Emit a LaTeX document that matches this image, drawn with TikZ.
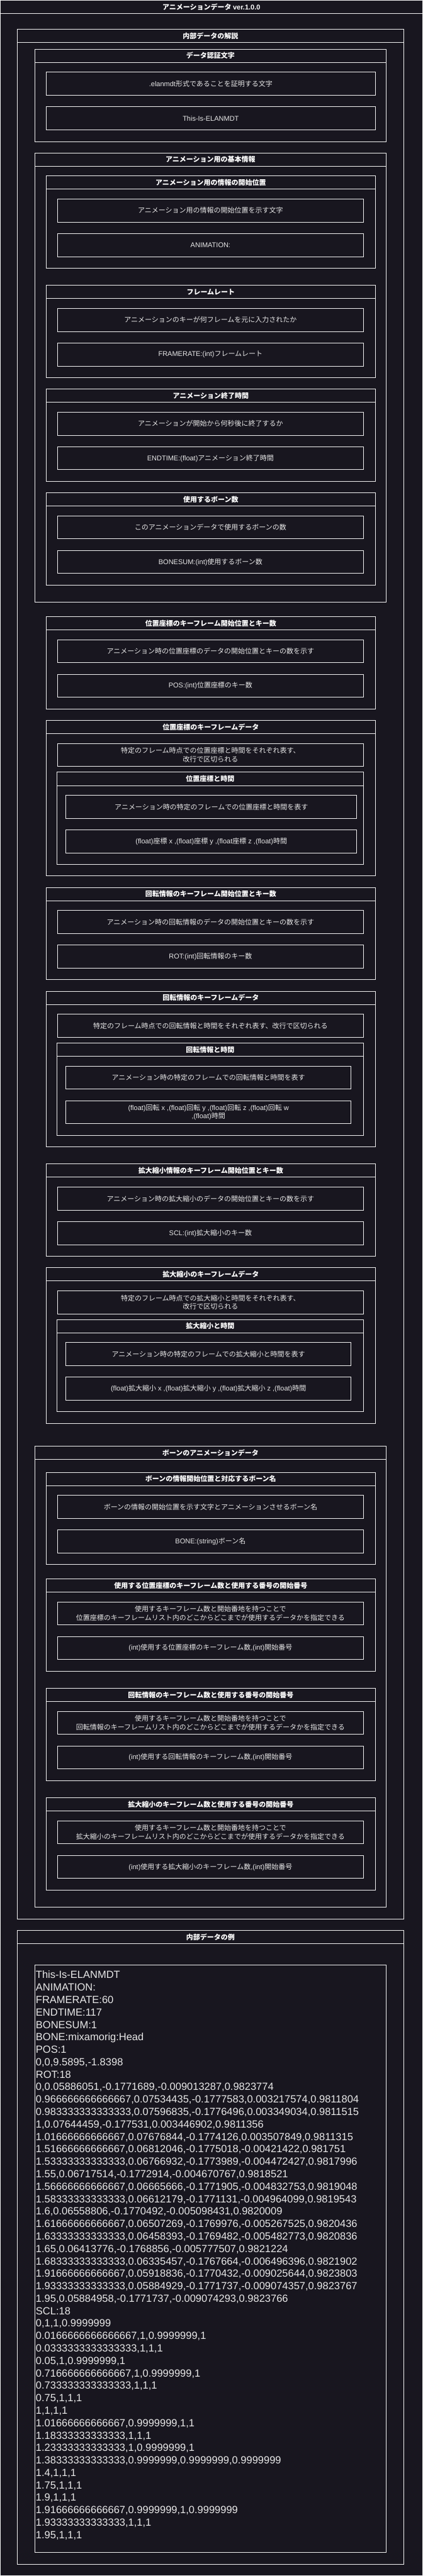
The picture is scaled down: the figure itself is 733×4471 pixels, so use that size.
\documentclass[tikz,border=0pt]{standalone}
\usepackage{fontspec}
\setmainfont{Liberation Sans}
\newfontfamily\jpfont{Noto Sans CJK JP}
\usepackage{tikz}
\usetikzlibrary{positioning}

\definecolor{bgdark}{RGB}{24, 22, 31}
\definecolor{linecol}{RGB}{242, 242, 242}
\definecolor{textcol}{RGB}{232, 232, 232}

% Latin runs inside the Japanese labels
\newcommand{\enword}[1]{{\rmfamily #1}}

\begin{document}
\begin{tikzpicture}[x=1pt, y=-1pt,
  lane/.style={draw=linecol, line width=1pt, inner sep=0pt, outer sep=0pt, anchor=north west},
  lanehead/.style={lane, minimum height=23pt, text=white, font=\fontsize{12}{15}\selectfont\jpfont\bfseries},
  field/.style={lane, minimum height=40pt, align=center, text=textcol, font=\fontsize{12}{15}\selectfont\jpfont},
  w1/.style={minimum width=670pt}, w2/.style={minimum width=610pt},
  w3/.style={minimum width=571pt}, w4/.style={minimum width=532pt},
  w5/.style={minimum width=530pt}, w6/.style={minimum width=504pt},
  w7/.style={minimum width=494pt},
  sample/.style={anchor=north west, align=left, inner sep=0pt, text=textcol, font=\fontsize{18}{21.6}\selectfont}
]
  \fill[bgdark] (0,0) rectangle (733,4471);
  \useasboundingbox (0,0) rectangle (733,4471);

  % Outer frame
  \node[lane, minimum width=732pt, minimum height=4470pt] (animF) at (0.5,0.5) {};
  \node[lanehead, minimum width=732pt] (anim) at (0.5,0.5) {アニメーションデータ \enword{ver.1.0.0}};

  % Explanation
  \node[lane, w1, minimum height=3279.6pt] (explF) at (30,50.7) {};
  \node[lanehead, w1] (expl) at (30,50.7) {内部データの解説};

  \node[lane, w2, minimum height=160.4pt] (authF) at (60,85.3) {};
  \node[lanehead, w2] (auth) at (60,85.3) {データ認証文字};
  \node[field, w3] (authText) at (80,125.3) {\enword{.elanmdt}形式であることを証明する文字};
  \node[field, w3] (authKey) at (80,185.3) {\enword{This-Is-ELANMDT}};

  \node[lane, w2, minimum height=780pt] (baseF) at (60,265.3) {};
  \node[lanehead, w2] (base) at (60,265.3) {アニメーション用の基本情報};

  \node[lane, w3, minimum height=160pt] (startF) at (80,305.3) {};
  \node[lanehead, w3] (start) at (80,305.3) {アニメーション用の情報の開始位置};
  \node[field, w5] (startText) at (100,345.3) {アニメーション用の情報の開始位置を示す文字};
  \node[field, w5] (startKey) at (100,405.3) {\enword{ANIMATION:}};

  \node[lane, w3, minimum height=160pt] (rateF) at (80,495.3) {};
  \node[lanehead, w3] (rate) at (80,495.3) {フレームレート};
  \node[field, w5] (rateText) at (100,535.3) {アニメーションのキーが何フレームを元に入力されたか};
  \node[field, w5] (rateKey) at (100,595.3) {\enword{FRAMERATE:(int)}フレームレート};

  \node[lane, w3, minimum height=160pt] (endF) at (80,675.3) {};
  \node[lanehead, w3] (end) at (80,675.3) {アニメーション終了時間};
  \node[field, w5] (endText) at (100,715.3) {アニメーションが開始から何秒後に終了するか};
  \node[field, w5] (endKey) at (100,775.3) {\enword{ENDTIME:(float)}アニメーション終了時間};

  \node[lane, w3, minimum height=160pt] (boneSumF) at (80,855.3) {};
  \node[lanehead, w3] (boneSum) at (80,855.3) {使用するボーン数};
  \node[field, w5] (boneSumText) at (100,895.3) {このアニメーションデータで使用するボーンの数};
  \node[field, w5] (boneSumKey) at (100,955.3) {\enword{BONESUM:(int)}使用するボーン数};

  % Position keys
  \node[lane, w3, minimum height=160pt] (posF) at (80,1070.3) {};
  \node[lanehead, w3] (pos) at (80,1070.3) {位置座標のキーフレーム開始位置とキー数};
  \node[field, w5] (posText) at (100,1110.3) {アニメーション時の位置座標のデータの開始位置とキーの数を示す};
  \node[field, w5] (posKey) at (100,1170.3) {\enword{POS:(int)}位置座標のキー数};

  \node[lane, w3, minimum height=270pt] (posDataF) at (80,1250.3) {};
  \node[lanehead, w3] (posData) at (80,1250.3) {位置座標のキーフレームデータ};
  \node[field, w5] (posDataText) at (100,1290.3) {特定のフレーム時点での位置座標と時間をそれぞれ表す、\\改行で区切られる};
  \node[lane, w4, minimum height=160pt] (posTimeF) at (98.5,1340.3) {};
  \node[lanehead, w4] (posTime) at (98.5,1340.3) {位置座標と時間};
  \node[field, w6] (posTimeText) at (114.5,1380.3) {アニメーション時の特定のフレームでの位置座標と時間を表す};
  \node[field, w6] (posTimeKey) at (114.5,1440.3) {\enword{(float)}座標\enword{ x ,(float)}座標\enword{ y ,(float}座標\enword{ z ,(float)}時間};

  % Rotation keys
  \node[lane, w3, minimum height=160pt] (rotF) at (80,1540.3) {};
  \node[lanehead, w3] (rot) at (80,1540.3) {回転情報のキーフレーム開始位置とキー数};
  \node[field, w5] (rotText) at (100,1580.3) {アニメーション時の回転情報のデータの開始位置とキーの数を示す};
  \node[field, w5] (rotKey) at (100,1640.3) {\enword{ROT:(int)}回転情報のキー数};

  \node[lane, w3, minimum height=270pt] (rotDataF) at (80,1720.3) {};
  \node[lanehead, w3] (rotData) at (80,1720.3) {回転情報のキーフレームデータ};
  \node[field, w5] (rotDataText) at (100,1760.3) {特定のフレーム時点での回転情報と時間をそれぞれ表す、改行で区切られる};
  \node[lane, w4, minimum height=160pt] (rotTimeF) at (98.5,1810.3) {};
  \node[lanehead, w4] (rotTime) at (98.5,1810.3) {回転情報と時間};
  \node[field, w7] (rotTimeText) at (114.5,1850.3) {アニメーション時の特定のフレームでの回転情報と時間を表す};
  \node[field, w7] (rotTimeKey) at (114.5,1910.3) {\enword{(float)}回転\enword{ x ,(float)}回転\enword{ y ,(float)}回転\enword{ z ,(float)}回転\enword{ w}\\\enword{,(float)}時間};

  % Scale keys
  \node[lane, w3, minimum height=160pt] (sclF) at (80,2020.3) {};
  \node[lanehead, w3] (scl) at (80,2020.3) {拡大縮小情報のキーフレーム開始位置とキー数};
  \node[field, w5] (sclText) at (100,2060.3) {アニメーション時の拡大縮小のデータの開始位置とキーの数を示す};
  \node[field, w5] (sclKey) at (100,2120.3) {\enword{SCL:(int)}拡大縮小のキー数};

  \node[lane, w3, minimum height=270pt] (sclDataF) at (80,2200.3) {};
  \node[lanehead, w3] (sclData) at (80,2200.3) {拡大縮小のキーフレームデータ};
  \node[field, w5] (sclDataText) at (100,2240.3) {特定のフレーム時点での拡大縮小と時間をそれぞれ表す、\\改行で区切られる};
  \node[lane, w4, minimum height=160pt] (sclTimeF) at (98.5,2290.3) {};
  \node[lanehead, w4] (sclTime) at (98.5,2290.3) {拡大縮小と時間};
  \node[field, w7] (sclTimeText) at (114.5,2330.3) {アニメーション時の特定のフレームでの拡大縮小と時間を表す};
  \node[field, w7] (sclTimeKey) at (114.5,2390.3) {\enword{(float)}拡大縮小\enword{ x ,(float)}拡大縮小\enword{ y ,(float)}拡大縮小\enword{ z ,(float)}時間};

  % Bone data
  \node[lane, w2, minimum height=800pt] (boneF) at (60,2510.3) {};
  \node[lanehead, w2] (bone) at (60,2510.3) {ボーンのアニメーションデータ};

  \node[lane, w3, minimum height=160pt] (boneNameF) at (80,2555.3) {};
  \node[lanehead, w3] (boneName) at (80,2555.3) {ボーンの情報開始位置と対応するボーン名};
  \node[field, w5] (boneNameText) at (100,2595.3) {ボーンの情報の開始位置を示す文字とアニメーションさせるボーン名};
  \node[field, w5] (boneNameKey) at (100,2655.3) {\enword{BONE:(string)}ボーン名};

  \node[lane, w3, minimum height=160pt] (usePosF) at (80,2740.3) {};
  \node[lanehead, w3] (usePos) at (80,2740.3) {使用する位置座標のキーフレーム数と使用する番号の開始番号};
  \node[field, w5] (usePosText) at (100,2780.3) {使用するキーフレーム数と開始番地を持つことで\\位置座標のキーフレームリスト内のどこからどこまでが使用するデータかを指定できる};
  \node[field, w5] (usePosKey) at (100,2840.3) {\enword{(int)}使用する位置座標のキーフレーム数\enword{,(int)}開始番号};

  \node[lane, w3, minimum height=160pt] (useRotF) at (80,2930.3) {};
  \node[lanehead, w3] (useRot) at (80,2930.3) {回転情報のキーフレーム数と使用する番号の開始番号};
  \node[field, w5] (useRotText) at (100,2970.3) {使用するキーフレーム数と開始番地を持つことで\\回転情報のキーフレームリスト内のどこからどこまでが使用するデータかを指定できる};
  \node[field, w5] (useRotKey) at (100,3030.3) {\enword{(int)}使用する回転情報のキーフレーム数\enword{,(int)}開始番号};

  \node[lane, w3, minimum height=160pt] (useSclF) at (80,3120.3) {};
  \node[lanehead, w3] (useScl) at (80,3120.3) {拡大縮小のキーフレーム数と使用する番号の開始番号};
  \node[field, w5] (useSclText) at (100,3160.3) {使用するキーフレーム数と開始番地を持つことで\\拡大縮小のキーフレームリスト内のどこからどこまでが使用するデータかを指定できる};
  \node[field, w5] (useSclKey) at (100,3220.3) {\enword{(int)}使用する拡大縮小のキーフレーム数\enword{,(int)}開始番号};

  % Example
  \node[lane, w1, minimum height=1100pt] (exampleF) at (30,3350.3) {};
  \node[lanehead, w1] (example) at (30,3350.3) {内部データの例};
  \node[lane, w2, minimum height=1020pt] (sampleBox) at (60,3410.3) {};
  \node[sample] (sampleText) at (62,3420.6) {This-Is-ELANMDT\\
    ANIMATION:\\
    FRAMERATE:60\\
    ENDTIME:117\\
    BONESUM:1\\
    BONE:mixamorig:Head\\
    POS:1\\
    0,0,9.5895,-1.8398\\
    ROT:18\\
    0,0.05886051,-0.1771689,-0.009013287,0.9823774\\
    0.966666666666667,0.07534435,-0.1777583,0.003217574,0.9811804\\
    0.983333333333333,0.07596835,-0.1776496,0.003349034,0.9811515\\
    1,0.07644459,-0.177531,0.003446902,0.9811356\\
    1.01666666666667,0.07676844,-0.1774126,0.003507849,0.9811315\\
    1.51666666666667,0.06812046,-0.1775018,-0.00421422,0.981751\\
    1.53333333333333,0.06766932,-0.1773989,-0.004472427,0.9817996\\
    1.55,0.06717514,-0.1772914,-0.004670767,0.9818521\\
    1.56666666666667,0.06665666,-0.1771905,-0.004832753,0.9819048\\
    1.58333333333333,0.06612179,-0.1771131,-0.004964099,0.9819543\\
    1.6,0.06558806,-0.1770492,-0.005098431,0.9820009\\
    1.61666666666667,0.06507269,-0.1769976,-0.005267525,0.9820436\\
    1.63333333333333,0.06458393,-0.1769482,-0.005482773,0.9820836\\
    1.65,0.06413776,-0.1768856,-0.005777507,0.9821224\\
    1.68333333333333,0.06335457,-0.1767664,-0.006496396,0.9821902\\
    1.91666666666667,0.05918836,-0.1770432,-0.009025644,0.9823803\\
    1.93333333333333,0.05884929,-0.1771737,-0.009074357,0.9823767\\
    1.95,0.05884958,-0.1771737,-0.009074293,0.9823766\\
    SCL:18\\
    0,1,1,0.9999999\\
    0.0166666666666667,1,0.9999999,1\\
    0.0333333333333333,1,1,1\\
    0.05,1,0.9999999,1\\
    0.716666666666667,1,0.9999999,1\\
    0.733333333333333,1,1,1\\
    0.75,1,1,1\\
    1,1,1,1\\
    1.01666666666667,0.9999999,1,1\\
    1.18333333333333,1,1,1\\
    1.23333333333333,1,0.9999999,1\\
    1.38333333333333,0.9999999,0.9999999,0.9999999\\
    1.4,1,1,1\\
    1.75,1,1,1\\
    1.9,1,1,1\\
    1.91666666666667,0.9999999,1,0.9999999\\
    1.93333333333333,1,1,1\\
    1.95,1,1,1};
\end{tikzpicture}
\end{document}
